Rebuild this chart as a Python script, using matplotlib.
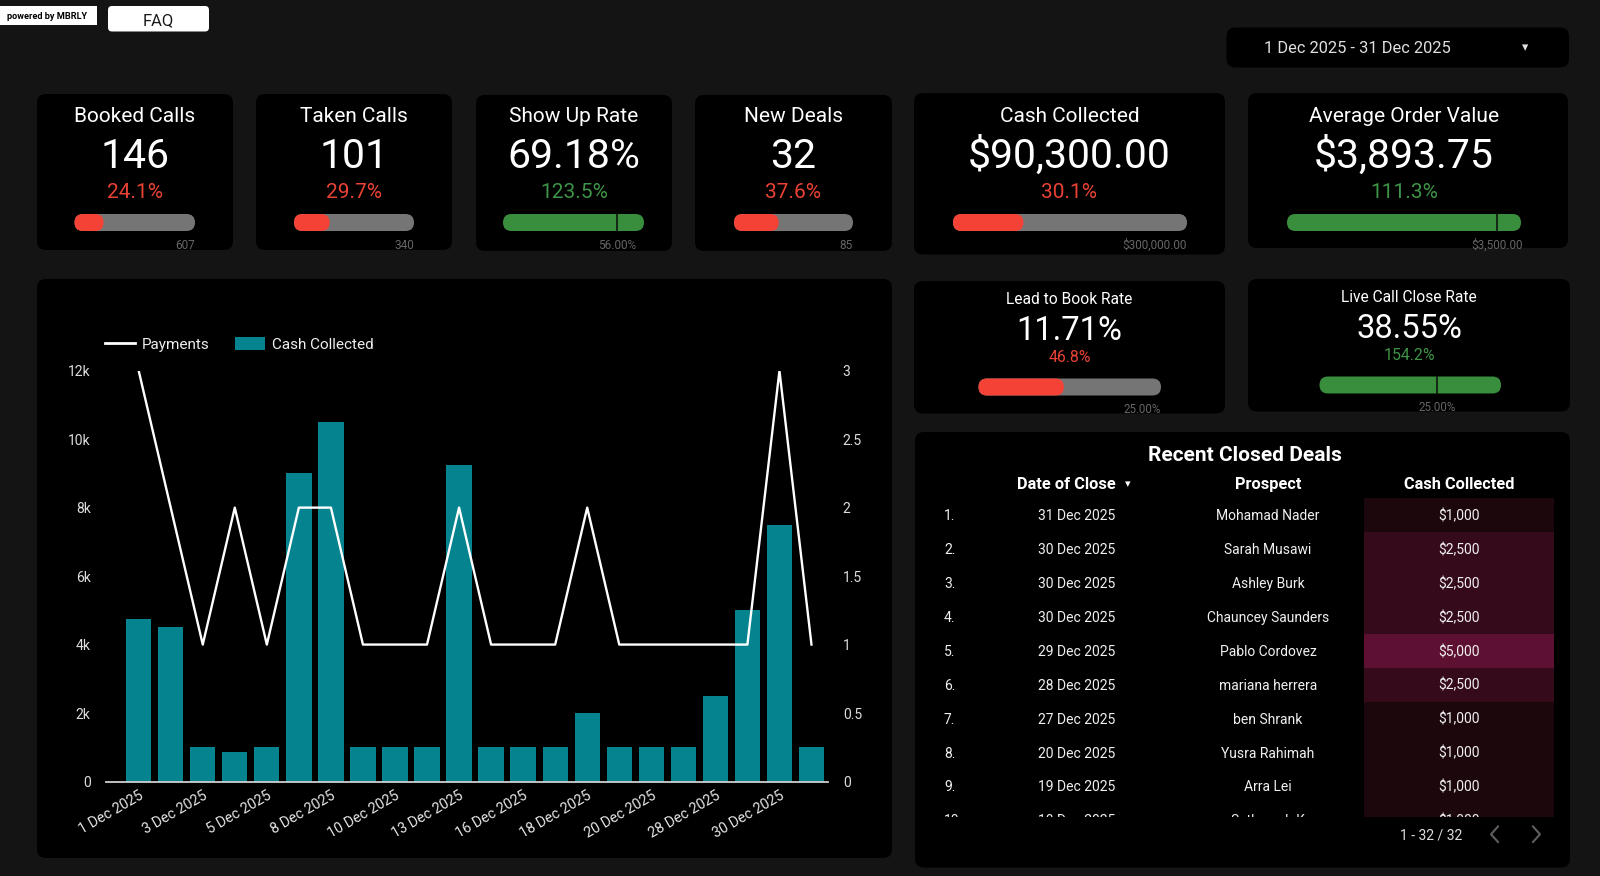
import matplotlib
matplotlib.use('Agg')
import matplotlib.pyplot as plt
from matplotlib.patches import FancyBboxPatch, Rectangle
from matplotlib.lines import Line2D
import matplotlib.colors as mcolors
import numpy as np

plt.rcParams['font.family'] = ['Roboto', 'DejaVu Sans']

# ---------------- data ----------------
dates = ['1 Dec 2025', '2 Dec 2025', '3 Dec 2025', '4 Dec 2025', '5 Dec 2025',
         '7 Dec 2025', '8 Dec 2025', '9 Dec 2025', '10 Dec 2025', '12 Dec 2025',
         '13 Dec 2025', '15 Dec 2025', '16 Dec 2025', '17 Dec 2025', '18 Dec 2025',
         '19 Dec 2025', '20 Dec 2025', '27 Dec 2025', '28 Dec 2025', '29 Dec 2025',
         '30 Dec 2025', '31 Dec 2025']
cash = [4750, 4500, 1000, 850, 1000, 9000, 10500, 1000, 1000, 1000, 9250,
        1000, 1000, 1000, 2000, 1000, 1000, 1000, 2500, 5000, 7500, 1000]
payments = [3, 2, 1, 2, 1, 2, 2, 1, 1, 1, 2, 1, 1, 1, 2, 1, 1, 1, 1, 1, 3, 1]

kpi_titles = ['Booked Calls', 'Taken Calls', 'Show Up Rate', 'New Deals',
              'Cash Collected', 'Average Order Value']
kpi_values = ['146', '101', '69.18%', '32', '$90,300.00', '$3,893.75']
kpi_progress = [24.1, 29.7, 123.5, 37.6, 30.1, 111.3]
kpi_targets = ['607', '340', '56.00%', '85', '$300,000.00', '$3,500.00']

rate_titles = ['Lead to Book Rate', 'Live Call Close Rate']
rate_values = ['11.71%', '38.55%']
rate_progress = [46.8, 154.2]
rate_targets = ['25.00%', '25.00%']

table_title = 'Recent Closed Deals'
table_headers = ['Date of Close', 'Prospect', 'Cash Collected']
table_dates = ['31 Dec 2025', '30 Dec 2025', '30 Dec 2025', '30 Dec 2025', '29 Dec 2025',
               '28 Dec 2025', '27 Dec 2025', '20 Dec 2025', '19 Dec 2025', '18 Dec 2025']
table_prospects = ['Mohamad Nader', 'Sarah Musawi', 'Ashley Burk', 'Chauncey Saunders',
                   'Pablo Cordovez', 'mariana herrera', 'ben Shrank', 'Yusra Rahimah',
                   'Arra Lei', 'Sathyarah K']
table_cash = [1000, 2500, 2500, 2500, 5000, 2500, 1000, 1000, 1000, 1000]
pagination = '1 - 32 / 32'
date_range = '1 Dec 2025 - 31 Dec 2025'

# ---------------- style ----------------
PAGE = '#141414'
CARD = '#000000'
TEAL = '#05838f'
RED_TXT = '#ea4335'
GREEN_TXT = '#3e9447'
RED_BAR = '#f44336'
GREEN_BAR = '#388e3c'
GRAY_BAR = '#757575'
TGT = '#666666'

W, H = 1600, 876
fig = plt.figure(figsize=(W / 100, H / 100), dpi=100, facecolor=PAGE)
bg = fig.add_axes([0, 0, 1, 1])
bg.set_xlim(0, W)
bg.set_ylim(H, 0)
bg.axis('off')


def pt2px(s):
    return s * 100 / 72


def txt(x, yc, s, size, color='white', ha='center', weight='normal', **kw):
    # yc is the vertical centre of the capital letters (pixel coords)
    yb = yc + 0.711 * pt2px(size) / 2
    return bg.text(x, yb, s, ha=ha, va='baseline', fontsize=size, color=color,
                   fontweight=weight, **kw)


def rbox(x0, y0, x1, y1, fc, r=9, z=1):
    p = FancyBboxPatch((x0, y0), x1 - x0, y1 - y0,
                       boxstyle=f"round,pad=0,rounding_size={r}",
                       fc=fc, ec='none', zorder=z)
    bg.add_patch(p)
    return p


def progress(x0, x1, yc, p, h=17):
    bw = x1 - x0
    if p < 100:
        rbox(x0, yc - h / 2, x1, yc + h / 2, GRAY_BAR, r=h / 2, z=2)
        rbox(x0, yc - h / 2, x0 + bw * p / 100, yc + h / 2, RED_BAR, r=h / 2, z=3)
        return x1, 'right'
    rbox(x0, yc - h / 2, x1, yc + h / 2, GREEN_BAR, r=h / 2, z=2)
    m = x0 + bw * 100 / p
    bg.plot([m, m], [yc - h / 2, yc + h / 2], color='#0b0b0b', lw=1.1, zorder=4)
    return m, 'center'


# ---------------- header ----------------
bg.add_patch(Rectangle((0, 6), 97, 19, fc='white', ec='none'))
txt(7, 15.5, 'powered by MBRLY', 6.6, color='black', ha='left', weight='bold')
rbox(108, 6, 209, 31.5, 'white', r=4)
txt(158.5, 19, 'FAQ', 12, color='#1a1a1a')
rbox(1226.5, 27.5, 1569, 67.5, CARD, r=9)
txt(1357, 47.3, date_range, 11.8, color='#e0e0e0')
bg.text(1525.5, 47.5, '\u25BE', ha='center', va='center', fontsize=9, color='#e0e0e0',
        family='DejaVu Sans')

# ---------------- KPI cards ----------------
kpi_boxes = [(37, 94, 233, 250), (256, 94, 452, 250), (476, 95, 672, 251),
             (695, 95, 892, 251), (914, 93, 1225, 254.5), (1248, 93, 1568, 248)]
kpi_bars = [(74.5, 195), (294, 414), (503, 644), (734, 853), (953, 1187), (1287, 1521)]
kpi_cx = [135, 354, 574, 793.5, 1069.5, 1404]
for (x0, y0, x1, y1), (b0, b1), cx, t, v, p, tg in zip(
        kpi_boxes, kpi_bars, kpi_cx, kpi_titles, kpi_values, kpi_progress, kpi_targets):
    rbox(x0, y0, x1, y1, CARD)
    txt(cx, 114.7, t, 15)
    txt(cx, 153, v, 29.5)
    txt(cx, 190.5, f'{p:.1f}%', 15, color=RED_TXT if p < 100 else GREEN_TXT)
    lx, lha = progress(b0, b1, 222.5, p)
    txt(lx, 244.5, tg, 8.5, color=TGT, ha=lha)

rate_boxes = [(914, 281, 1225, 413.5), (1248, 279, 1570, 411.5)]
rate_bars = [(978.5, 1161), (1319.5, 1501)]
for (x0, y0, x1, y1), (b0, b1), t, v, p, tg in zip(rate_boxes, rate_bars, rate_titles,
                                                    rate_values, rate_progress, rate_targets):
    rbox(x0, y0, x1, y1, CARD)
    cx = (x0 + x1) / 2
    txt(cx, y0 + 17.5, t, 11.2)
    txt(cx, y0 + 47, v, 23.6)
    txt(cx, y0 + 75.5, f'{p:.1f}%', 11.4, color=RED_TXT if p < 100 else GREEN_TXT)
    lx, lha = progress(b0, b1, y0 + 106, p)
    txt(lx, y0 + 128, tg, 8.3, color=TGT, ha=lha)

# ---------------- chart card ----------------
rbox(37, 279, 892, 858, CARD)
ax_l, ax_r, ax_b, ax_t = 106, 827.5, 781.5, 370.7
ax = fig.add_axes([ax_l / W, 1 - ax_b / H, (ax_r - ax_l) / W, (ax_b - ax_t) / H])
ax.patch.set_alpha(0)
x = np.arange(len(dates))
ax.bar(x, cash, width=0.79, color=TEAL, zorder=2)
ax.set_xlim(-1.02, len(dates) - 0.5)
ax.set_ylim(0, 12000)
ax.set_yticks(np.arange(0, 12001, 2000))
ax.set_yticklabels(['0' if v == 0 else f'{v // 1000}k' for v in range(0, 12001, 2000)])
ax.set_xticks(x[::2])
ax.set_xticklabels(dates[::2], rotation=30, ha='right', rotation_mode='anchor')
ax.tick_params(axis='y', length=0, pad=11, labelsize=10, labelcolor='#dddddd')
ax.tick_params(axis='x', length=0, pad=5, labelsize=10.4, labelcolor='#e6e6e6')
for s in ['top', 'left', 'right']:
    ax.spines[s].set_visible(False)
ax.spines['bottom'].set_color('#d0d0d0')
ax.spines['bottom'].set_linewidth(1.3)

ax2 = ax.twinx()
ax2.plot(x, payments, color='white', lw=1.7, zorder=5)
ax2.set_ylim(0, 3)
ax2.set_yticks(np.arange(0, 3.01, 0.5))
ax2.set_yticklabels([f'{v:g}' for v in np.arange(0, 3.01, 0.5)])
ax2.tick_params(axis='y', length=0, pad=11, labelsize=10, labelcolor='#dddddd')
for s in ax2.spines.values():
    s.set_visible(False)

handles = [Line2D([0], [0], color='white', lw=2),
           Rectangle((0, 0), 1, 1, fc=TEAL, ec='none')]
leg = ax.legend(handles, ['Payments', 'Cash Collected'], loc='center left',
                bbox_to_anchor=(105 / W, 1 - 344.5 / H), bbox_transform=fig.transFigure,
                ncol=2, frameon=False, fontsize=11, labelcolor='#eeeeee',
                borderpad=0, borderaxespad=0, handlelength=1.96, handleheight=0.96,
                handletextpad=0.47, columnspacing=1.63)

# ---------------- table card ----------------
rbox(915, 432, 1570, 867.5, CARD)
txt(1245, 454, table_title, 15, weight='bold')
col_x = [1077, 1268, 1459]
txt(1066, 483.3, table_headers[0], 11.8, weight='bold')
bg.text(1128, 484, '\u25BE', ha='center', va='center', fontsize=8, color='white',
        family='DejaVu Sans')
txt(col_x[1], 483.3, table_headers[1], 11.8, weight='bold')
txt(col_x[2], 483.3, table_headers[2], 11.8, weight='bold')

row0, dy = 515.3, 33.9
clip_bottom = 816.7
cmap = mcolors.LinearSegmentedColormap.from_list('heat', ['#1c070d', '#5e1033'])
cmin, cmax = min(table_cash), max(table_cash)
for i, (d, pr, c) in enumerate(zip(table_dates, table_prospects, table_cash)):
    yc = row0 + i * dy
    t = (c - cmin) / (cmax - cmin)
    top = yc - dy / 2
    bot = min(yc + dy / 2, clip_bottom)
    bg.add_patch(Rectangle((1363.6, top), 1553.5 - 1363.6, bot - top, fc=cmap(t),
                           ec='none', zorder=1))
    for xx, s, ha in [(944, f'{i + 1}.', 'left'), (col_x[0], d, 'center'),
                      (col_x[1], pr, 'center'), (col_x[2], f'${c:,}', 'center')]:
        txt(xx, yc, s, 10, ha=ha, color='#f0f0f0')
# scroll clipping of the table body
bg.add_patch(Rectangle((916, clip_bottom), 652, 11, fc=CARD, ec='none', zorder=10))

txt(1431, 834.3, pagination, 10, color='#dddddd', zorder=11)
bg.plot([1498, 1491, 1498], [826.5, 834.3, 842], color='#5f5f5f', lw=1.5, zorder=11)
bg.plot([1533, 1540, 1533], [826.5, 834.3, 842], color='#5f5f5f', lw=1.5, zorder=11)

fig.savefig('out.png', dpi=100, facecolor=PAGE)
